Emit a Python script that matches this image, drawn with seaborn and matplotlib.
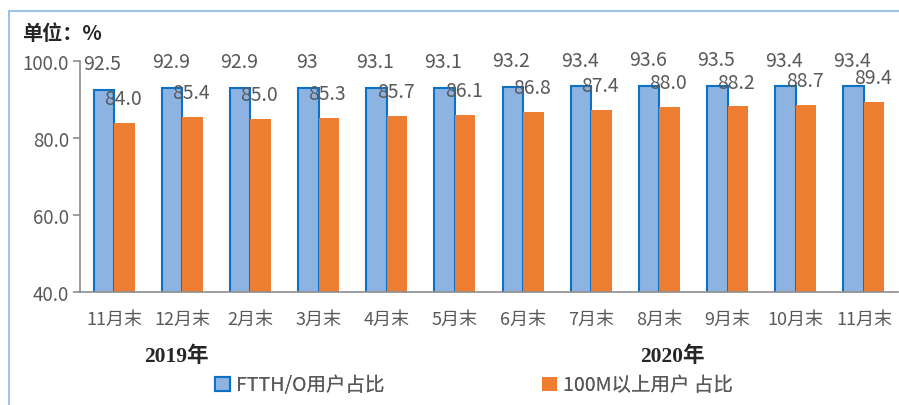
import matplotlib
matplotlib.use("Agg")
import matplotlib.pyplot as plt
import seaborn as sns
import pandas as pd
import numpy as np
from matplotlib.patches import Rectangle, Patch

months = ["11月末", "12月末", "2月末", "3月末", "4月末", "5月末", "6月末",
          "7月末", "8月末", "9月末", "10月末", "11月末"]
ftth = [92.5, 92.9, 92.9, 93.0, 93.1, 93.1, 93.2, 93.4, 93.6, 93.5, 93.4, 93.4]
ftth_labels = ["92.5", "92.9", "92.9", "93", "93.1", "93.1", "93.2", "93.4",
               "93.6", "93.5", "93.4", "93.4"]
m100 = [84.0, 85.4, 85.0, 85.3, 85.7, 86.1, 86.8, 87.4, 88.0, 88.2, 88.7, 89.4]
series_names = ["FTTH/O用户占比", "100M以上用户 占比"]
yticks = [40.0, 60.0, 80.0, 100.0]
years = ["2019年", "2020年"]

sns.set_theme(style="white")
plt.rcParams['font.family'] = ['Noto Sans CJK SC', 'DejaVu Sans']

slots = [f"s{i}" for i in range(len(months))]
df = pd.DataFrame({
    "slot": slots * 2,
    "value": ftth + m100,
    "series": [series_names[0]] * len(months) + [series_names[1]] * len(months),
})

W, H = 899, 406
fig = plt.figure(figsize=(W / 100, H / 100), dpi=100)
ax = fig.add_axes([80 / W, 1 - 293 / H, (898 - 80) / W, (293 - 62) / H])

blue_fill = "#8DB3E2"
blue_edge = "#0B72C6"
orange = "#ED7D31"
gray = "#595959"

sns.barplot(data=df, x="slot", y="value", hue="series", order=slots,
            hue_order=series_names, palette=[blue_fill, orange], width=0.6,
            ax=ax, legend=False, saturation=1)

cont_blue, cont_orange = ax.containers[0], ax.containers[1]
for b in cont_blue:
    b.set_edgecolor(blue_edge)
    b.set_linewidth(1.5)
for b in cont_orange:
    b.set_edgecolor("none")

ax.set_xlim(-0.5, len(months) - 0.5)
ax.set_ylim(40, 100)
ax.set_yticks(yticks)
ax.set_yticklabels([f"{v:.1f}" for v in yticks], color=gray, fontsize=13.5)
ax.set_xticks(range(len(months)))
ax.set_xticklabels(months, color=gray, fontsize=13)
ax.tick_params(axis="x", which="major", length=0, pad=13)
ax.set_xticks(np.arange(-0.5, len(months), 1.0), minor=True)
ax.tick_params(axis="x", which="minor", length=6, color="#8c8c8c", width=1.2, direction="out")
ax.tick_params(axis="y", length=5, color="#8c8c8c", width=1.2, direction="out", pad=3, left=True)
ax.set_xlabel("")
ax.set_ylabel("")
for s in ["top", "right"]:
    ax.spines[s].set_visible(False)
for s in ["left", "bottom"]:
    ax.spines[s].set_color("#8c8c8c")
    ax.spines[s].set_linewidth(1.2)

for b, lab in zip(cont_blue, ftth_labels):
    ax.annotate(lab, (b.get_x() + b.get_width() / 2, b.get_height()),
                xytext=(-1, 19), textcoords="offset points", ha="center", va="center",
                fontsize=14, color=gray)
for b, v in zip(cont_orange, m100):
    ax.annotate(f"{v:.1f}", (b.get_x() + b.get_width() / 2, b.get_height()),
                xytext=(-1, 17.5), textcoords="offset points", ha="center", va="center",
                fontsize=14, color=gray)

# frame
fig.patches.append(Rectangle((9 / W, -0.1), 1.2, 1 - 12 / H + 0.1, transform=fig.transFigure,
                             fill=False, edgecolor="#9DC3E6", linewidth=1.5))

fig.text(22 / W, 1 - 33 / H, "单位：%", fontsize=14.5, fontweight="bold", color="#262626",
         va="center", ha="left")
for x, t in zip([176, 672], years):
    fig.text(x / W, 1 - 357 / H, t, fontsize=15.5, fontweight="bold", color="#262626",
             va="center", ha="center", family=["Liberation Serif", "Noto Sans CJK SC"])

handles = [Patch(facecolor=blue_fill, edgecolor=blue_edge, linewidth=1.5),
           Patch(facecolor=orange, edgecolor="none")]
for h, name, x in zip(handles, series_names, [215, 542]):
    leg = fig.legend([h], [name], loc="center left", bbox_to_anchor=(x / W, 1 - 386 / H),
                     frameon=False, fontsize=14, labelcolor=gray,
                     handlelength=0.75, handleheight=0.75, handletextpad=0.35,
                     borderaxespad=0, borderpad=0)
    fig.add_artist(leg)

fig.savefig("out.png", dpi=100)
